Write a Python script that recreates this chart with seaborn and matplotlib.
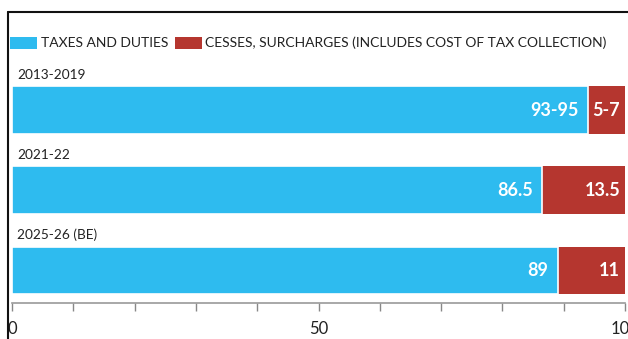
import matplotlib
matplotlib.use("Agg")
import matplotlib.pyplot as plt
from matplotlib.patches import Patch
from matplotlib.lines import Line2D
from matplotlib.ticker import MultipleLocator, FuncFormatter
import seaborn as sns
import pandas as pd

categories = ["2013-2019", "2021-22", "2025-26 (BE)"]
taxes = [94, 86.5, 89]
cesses = [6, 13.5, 11]
tax_labels = ["93-95", "86.5", "89"]
cess_labels = ["5-7", "13.5", "11"]
series_names = ["TAXES AND DUTIES", "CESSES, SURCHARGES (INCLUDES COST OF TAX COLLECTION)"]

BLUE = "#2EBBEF"
RED = "#B5362F"

sns.set_theme(style="white")
plt.rcParams["font.family"] = ["Lato", "DejaVu Sans"]

df = pd.DataFrame({"cat": categories, "tax": taxes,
                   "total": [t + c for t, c in zip(taxes, cesses)]})

fig = plt.figure(figsize=(6.28, 3.39), dpi=100)
ax = fig.add_axes([12/628, 1 - 303/339, (625 - 12)/628, (303 - 60)/339])

sns.barplot(data=df, x="total", y="cat", color=RED, width=0.59, ax=ax,
            saturation=1, edgecolor="none", orient="h")
sns.barplot(data=df, x="tax", y="cat", color=BLUE, width=0.59, ax=ax,
            saturation=1, edgecolor="white", linewidth=1.2, orient="h")

ax.set_xlim(0, 100)
ax.set_ylim(2.41, -0.625)
ax.set_xlabel("")
ax.set_ylabel("")
ax.set_yticks([])

for i, cat in enumerate(categories):
    ax.text(0.8, i - 0.44, cat, ha="left", va="center", fontsize=9.8, color="#222222")
    ax.text(taxes[i] - 1.5, i, tax_labels[i], ha="right", va="center",
            fontsize=13, fontweight="bold", color="white")
    ax.text(99.2, i, cess_labels[i], ha="right", va="center",
            fontsize=13, fontweight="bold", color="white")

for s in ["top", "right", "left"]:
    ax.spines[s].set_visible(False)
ax.spines["bottom"].set_color("#999999")
ax.spines["bottom"].set_linewidth(1.2)

ax.xaxis.set_major_locator(MultipleLocator(10))
ax.xaxis.set_major_formatter(FuncFormatter(lambda v, p: f"{int(round(v))}" if int(round(v)) in (0, 50, 100) else ""))
ax.tick_params(axis="x", bottom=True, length=6, width=1, color="#888888",
               labelsize=12, labelcolor="#222222", pad=7)

handles = [Patch(facecolor=BLUE, edgecolor="none"), Patch(facecolor=RED, edgecolor="none")]
fig.legend(handles, series_names, loc="center left", bbox_to_anchor=(10/628, 1 - 43/339),
           ncol=2, frameon=False, fontsize=10, handlelength=1.95, handleheight=0.95,
           handletextpad=0.25, columnspacing=0.5, borderaxespad=0, borderpad=0,
           labelcolor="#222222")

fig.add_artist(Line2D([8/628, 8/628], [0, 1 - 12/339], color="#111111", lw=1.5))
fig.add_artist(Line2D([8/628, 1], [1 - 12/339, 1 - 12/339], color="#111111", lw=1.5))

fig.savefig("out.png", dpi=100)
